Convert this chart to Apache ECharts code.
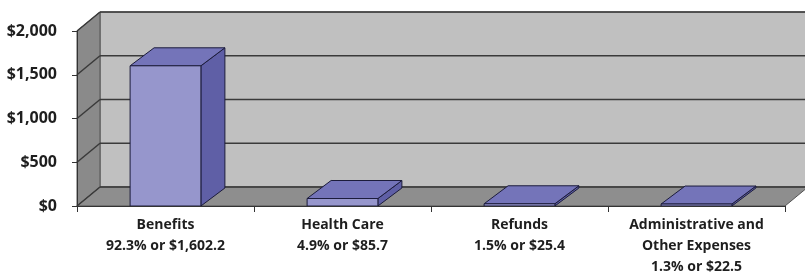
<!DOCTYPE html>
<html>
<head>
<meta charset="utf-8">
<script src="https://cdn.jsdelivr.net/npm/echarts@6/dist/echarts.min.js"></script>
<style>
  html, body { margin: 0; padding: 0; background: #fff; }
  #chart { width: 805px; height: 278px; }
</style>
</head>
<body>
<div id="chart"></div>
<script>
// data
var categories = ['Benefits', 'Health Care', 'Refunds', 'Administrative and\nOther Expenses'];
var percents = [92.3, 4.9, 1.5, 1.3];
var amounts = [1602.2, 85.7, 25.4, 22.5];
var yTicks = [0, 500, 1000, 1500, 2000];

// depth of the fake 3d box
var DX = 23, DY = -19;
var BAR_DX = 24, BAR_DY = -18;

function fmtMoney(v) {
    return '$' + v.toLocaleString('en-US', { minimumFractionDigits: 1, maximumFractionDigits: 1 });
}

var chart = echarts.init(document.getElementById('chart'));

function renderWalls(params, api) {
    var cs = params.coordSys;
    var x0 = cs.x, x1 = cs.x + cs.width;
    var yBot = api.coord([0, 0])[1];
    var yTop = api.coord([0, yTicks[yTicks.length - 1]])[1];
    var children = [];
    // back wall
    children.push({
        type: 'rect',
        shape: { x: x0 + DX, y: yTop + DY, width: x1 - x0 + 10, height: yBot - yTop },
        style: { fill: '#c0c0c0', stroke: '#555', lineWidth: 1 }
    });
    // left side wall
    children.push({
        type: 'polygon',
        shape: { points: [[x0, yTop], [x0 + DX, yTop + DY], [x0 + DX, yBot + DY], [x0, yBot]] },
        style: { fill: '#8a8a8a', stroke: '#555', lineWidth: 1 }
    });
    // floor
    children.push({
        type: 'polygon',
        shape: { points: [[x0, yBot], [x0 + DX, yBot + DY], [x1 + DX, yBot + DY], [x1, yBot]] },
        style: { fill: '#8e8e8e', stroke: '#555', lineWidth: 1 }
    });
    // gridlines on back wall and side wall
    for (var i = 0; i < yTicks.length; i++) {
        var y = api.coord([0, yTicks[i]])[1];
        children.push({
            type: 'line',
            shape: { x1: x0 + DX, y1: y + DY, x2: x1 + DX + 10, y2: y + DY },
            style: { stroke: '#3a3a3a', lineWidth: 1.5 }
        });
        children.push({
            type: 'line',
            shape: { x1: x0, y1: y, x2: x0 + DX, y2: y + DY },
            style: { stroke: '#3a3a3a', lineWidth: 1.5 }
        });
    }
    return { type: 'group', children: children };
}

function renderBar(params, api) {
    var idx = api.value(0);
    var top = api.coord([idx, api.value(1)]);
    var base = api.coord([idx, 0]);
    var bw = api.size([1, 0])[0] * 0.4;
    var xl = top[0] - bw / 2, xr = top[0] + bw / 2;
    var yt = top[1], yb = base[1];
    var edge = { stroke: '#1c1c3c', lineWidth: 1 };
    return {
        type: 'group',
        children: [
            {
                type: 'polygon',
                shape: { points: [[xr, yt], [xr + BAR_DX, yt + BAR_DY], [xr + BAR_DX, yb + BAR_DY], [xr, yb]] },
                style: Object.assign({ fill: '#5f5fa6' }, edge)
            },
            {
                type: 'polygon',
                shape: { points: [[xl, yt], [xl + BAR_DX, yt + BAR_DY], [xr + BAR_DX, yt + BAR_DY], [xr, yt]] },
                style: Object.assign({ fill: '#7474b9' }, edge)
            },
            {
                type: 'rect',
                shape: { x: xl, y: yt, width: bw, height: yb - yt },
                style: Object.assign({ fill: '#9696cc' }, edge)
            }
        ]
    };
}

var option = {
    animation: false,
    grid: { left: 77, right: 20, top: 31, bottom: 68 },
    xAxis: {
        type: 'category',
        data: categories,
        z: 10,
        axisLine: { lineStyle: { color: '#333', width: 1 } },
        axisTick: { show: true, length: 6, lineStyle: { color: '#333' } },
        axisLabel: {
            margin: 9,
            interval: 0,
            color: '#1e1e1e',
            fontFamily: 'Open Sans',
            fontWeight: 'bold',
            fontSize: 14,
            lineHeight: 21,
            formatter: function (name, i) {
                return name + '\n' + percents[i] + '% or ' + fmtMoney(amounts[i]);
            }
        }
    },
    yAxis: {
        type: 'value',
        min: 0,
        max: 2000,
        interval: 500,
        z: 10,
        splitLine: { show: false },
        axisLine: { show: true, lineStyle: { color: '#333', width: 1 } },
        axisTick: { show: true, length: 5, lineStyle: { color: '#333' } },
        axisLabel: {
            margin: 20,
            color: '#1e1e1e',
            fontFamily: 'Open Sans',
            fontWeight: 'bold',
            fontSize: 16,
            formatter: function (v) {
                return '$' + v.toLocaleString('en-US');
            }
        }
    },
    series: [
        {
            type: 'custom',
            z: 1,
            clip: false,
            silent: true,
            renderItem: renderWalls,
            data: [[0, 0]]
        },
        {
            type: 'custom',
            z: 3,
            clip: false,
            renderItem: renderBar,
            data: amounts.map(function (v, i) { return [i, v]; })
        }
    ]
};

chart.setOption(option);
</script>
</body>
</html>
